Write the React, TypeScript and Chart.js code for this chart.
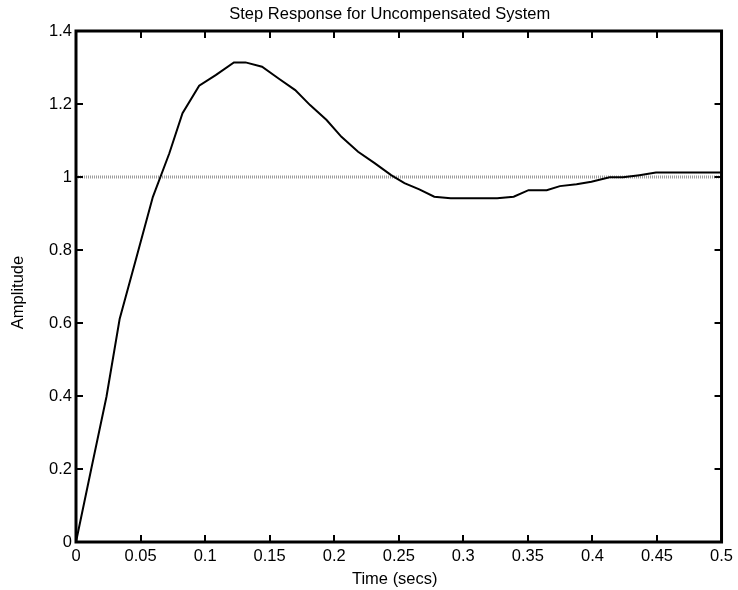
import React, { useEffect, useRef } from 'react';
import { Chart, registerables } from 'chart.js';

Chart.register(...registerables);

const FONT = "'Liberation Sans', Arial, Helvetica, sans-serif";
const FONT_SIZE = 16.5;

const TITLE = 'Step Response for Uncompensated System';
const X_LABEL = 'Time (secs)';
const Y_LABEL = 'Amplitude';

// Step response samples (time in seconds, amplitude)
const timeValues = [
  0, 0.0118, 0.0236, 0.0338, 0.0467, 0.0595, 0.0723, 0.0825, 0.0954, 0.1082,
  0.1223, 0.1313, 0.1441, 0.1569, 0.1698, 0.1813, 0.1941, 0.2056, 0.2185, 0.2313,
  0.2441, 0.2544, 0.2659, 0.2775, 0.2902, 0.3031, 0.3146, 0.3262, 0.339, 0.3505,
  0.3646, 0.3748, 0.3877, 0.3992, 0.4133, 0.4236, 0.4364, 0.4492, 0.4615, 0.4746,
  0.4869, 0.5,
];
const amplitudeValues = [
  0, 0.2, 0.398, 0.611, 0.778, 0.945, 1.065, 1.175, 1.25, 1.279,
  1.314, 1.314, 1.302, 1.27, 1.238, 1.197, 1.156, 1.11, 1.069, 1.038,
  1.005, 0.983, 0.966, 0.946, 0.942, 0.942, 0.942, 0.942, 0.946, 0.964,
  0.964, 0.975, 0.98, 0.987, 0.999, 0.999, 1.005, 1.012, 1.012, 1.012,
  1.012, 1.012,
];

// Steady-state reference line
const referenceTimes = [0, 0.5];
const referenceValues = [1, 1];

const X_TICKS = [0, 0.05, 0.1, 0.15, 0.2, 0.25, 0.3, 0.35, 0.4, 0.45, 0.5];
const Y_TICKS = [0, 0.2, 0.4, 0.6, 0.8, 1, 1.2, 1.4];

export default function App() {
  const ref = useRef<HTMLCanvasElement>(null);

  useEffect(() => {
    const canvas = ref.current;
    if (!canvas) return;

    const framePlugin = {
      id: 'matlabFrame',
      afterDraw(chart: any) {
        const { ctx, chartArea: a, scales } = chart;
        ctx.save();
        ctx.strokeStyle = '#000';
        ctx.lineWidth = 2;
        ctx.beginPath();
        scales.x.ticks.forEach((t: any) => {
          const px = Math.round(scales.x.getPixelForValue(t.value));
          ctx.moveTo(px, a.bottom);
          ctx.lineTo(px, a.bottom - 7);
          ctx.moveTo(px, a.top);
          ctx.lineTo(px, a.top + 7);
        });
        scales.y.ticks.forEach((t: any) => {
          const py = Math.round(scales.y.getPixelForValue(t.value));
          ctx.moveTo(a.left, py);
          ctx.lineTo(a.left + 7, py);
          ctx.moveTo(a.right, py);
          ctx.lineTo(a.right - 7, py);
        });
        ctx.stroke();
        ctx.lineWidth = 3;
        ctx.strokeRect(a.left, a.top, a.right - a.left, a.bottom - a.top);

        ctx.fillStyle = '#000';
        ctx.font = `${FONT_SIZE}px ${FONT}`;
        ctx.textAlign = 'center';
        ctx.textBaseline = 'middle';
        const cx = (a.left + a.right) / 2;
        ctx.fillText(TITLE, cx - 9, 14);
        ctx.fillText(X_LABEL, cx - 4, a.bottom + 37);
        ctx.translate(18, (a.top + a.bottom) / 2 + 6);
        ctx.rotate(-Math.PI / 2);
        ctx.fillText(Y_LABEL, 0, 0);
        ctx.restore();
      },
    };

    const chart = new Chart(canvas, {
      type: 'line',
      data: {
        datasets: [
          {
            label: 'Step response',
            data: timeValues.map((t, i) => ({ x: t, y: amplitudeValues[i] })),
            borderColor: '#000',
            borderWidth: 2,
            pointRadius: 0,
            tension: 0,
            fill: false,
          },
          {
            label: 'Final value',
            data: referenceTimes.map((t, i) => ({ x: t, y: referenceValues[i] })),
            borderColor: '#9c9c9c',
            borderWidth: 3,
            borderDash: [1, 1],
            pointRadius: 0,
            fill: false,
          },
        ],
      },
      options: {
        responsive: false,
        animation: false,
        events: [],
        layout: { padding: { top: 31, right: 12, left: 0, bottom: 0 } },
        plugins: {
          legend: { display: false },
          title: { display: false },
          tooltip: { enabled: false },
        },
        scales: {
          x: {
            type: 'linear',
            min: 0,
            max: 0.5,
            grid: { display: false, drawTicks: false },
            border: { display: false },
            afterBuildTicks: (scale: any) => {
              scale.ticks = X_TICKS.map((v) => ({ value: v }));
            },
            afterFit: (scale: any) => {
              scale.height = 48;
            },
            ticks: {
              padding: 5,
              color: '#000',
              maxRotation: 0,
              autoSkip: false,
              font: { family: FONT, size: FONT_SIZE },
              callback: (v: any) => String(Number(Number(v).toFixed(2))),
            },
          },
          y: {
            type: 'linear',
            min: 0,
            max: 1.4,
            grid: { display: false, drawTicks: false },
            border: { display: false },
            afterBuildTicks: (scale: any) => {
              scale.ticks = Y_TICKS.map((v) => ({ value: v }));
            },
            afterFit: (scale: any) => {
              scale.width = 76;
            },
            ticks: {
              padding: 4,
              color: '#000',
              autoSkip: false,
              font: { family: FONT, size: FONT_SIZE },
              callback: (v: any) => String(Number(Number(v).toFixed(1))),
            },
          },
        },
      },
      plugins: [framePlugin],
    });

    return () => chart.destroy();
  }, []);

  return (
    <div style={{ position: 'fixed', left: 0, top: 0, width: 738, height: 590, background: '#fff' }}>
      <canvas ref={ref} width={738} height={590} />
    </div>
  );
}
